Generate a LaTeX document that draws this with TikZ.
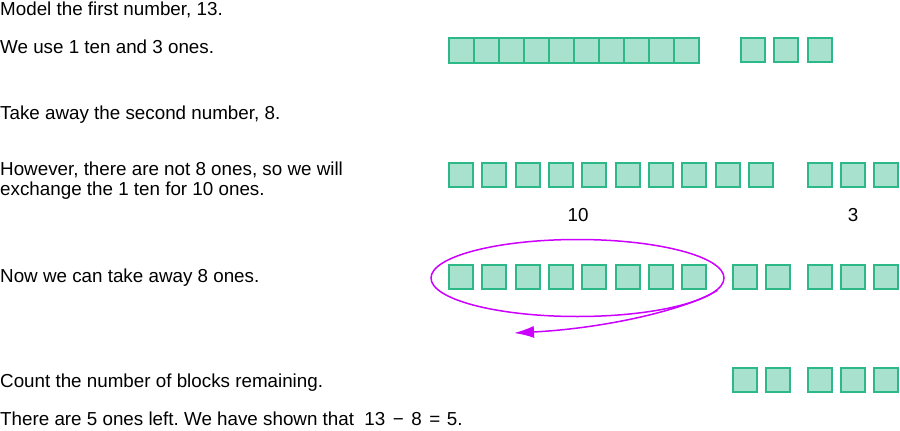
\documentclass[tikz,border=0pt]{standalone}
\usepackage{fontspec}
\setmainfont{Liberation Sans}
\frenchspacing
\usetikzlibrary{shapes.geometric,arrows.meta}
\definecolor{blockline}{RGB}{45,185,135}
\definecolor{blockfill}{RGB}{168,226,206}
\definecolor{loopline}{RGB}{204,0,255}
\tikzset{
  oneblock/.style={draw=blockline, fill=blockfill, line width=2pt, minimum size=24pt, inner sep=0pt},
  rodblock/.style={oneblock, minimum size=25pt},
  txt/.style={anchor=base west, inner sep=0pt, font=\fontsize{18.8}{21}\selectfont},
  lbl/.style={anchor=base, inner sep=0pt, font=\fontsize{18.8}{21}\selectfont},
}
\begin{document}
\begin{tikzpicture}[x=1pt,y=-1pt]
\useasboundingbox (0,0) rectangle (900,431);

\node[txt] (t1) at (0,16) {Model the first number, 13.};
\node[txt] (t2) at (0,53) {We use 1 ten and 3 ones.};
\node[txt] (t3) at (0,119) {Take away the second number, 8.};
\node[txt] (t4) at (0,175) {However, there are not 8 ones, so we will};
\node[txt] (t5) at (0,195) {exchange the 1 ten for 10 ones.};
\node[txt] (t6) at (0,282) {Now we can take away 8 ones.};
\node[txt] (t7) at (0,387) {Count the number of blocks remaining.};
\node[txt] (t8) at (0,425) {There are 5 ones left. We have shown that\hspace{0.55em}13\hspace{0.4em}−\hspace{0.4em}8\hspace{0.4em}=\hspace{0.35em}5.};

% 13 as one ten and three ones
\foreach \i in {0,...,9} \node[rodblock] (rod\i) at (461.5+25*\i,50) {};
\foreach \x [count=\i] in {753,786,820} \node[oneblock] (one\i) at (\x,50) {};

% the ten exchanged for ten ones
\foreach \i in {0,...,9} \node[oneblock] (ten\i) at (461+33.35*\i,174.5) {};
\foreach \x [count=\i] in {820,853,886} \node[oneblock] (extra\i) at (\x,174.5) {};
\node[lbl] (tenlbl) at (578,221) {10};
\node[lbl] (onelbl) at (853,221) {3};

% take away eight
\foreach \i in {0,...,7} \node[oneblock] (gone\i) at (461+33.35*\i,277) {};
\foreach \x [count=\i] in {744.7,778,820,853,886} \node[oneblock] (kept\i) at (\x,277) {};
\node[ellipse, draw=loopline, line width=1.5pt, minimum width=293pt, minimum height=77pt, inner sep=0pt] (loop) at (577.5,278) {};
\coordinate (tip) at (514,333);
\draw[-{Latex[length=20pt,width=12pt]}, loopline, line width=1.5pt] (loop.-5) .. controls (690,308) and (610,328) .. (tip);

% what is left
\foreach \x [count=\i] in {744.7,778,820,853,886} \node[oneblock] (left\i) at (\x,379.7) {};

\end{tikzpicture}
\end{document}
